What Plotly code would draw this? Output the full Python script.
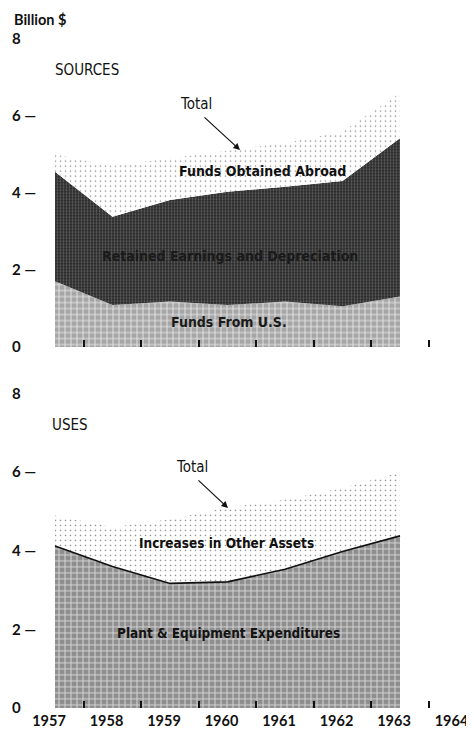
import plotly.graph_objects as go

years = [1957, 1958, 1959, 1960, 1961, 1962, 1963]

# SOURCES (billion $)
funds_from_us = [1.71, 1.09, 1.18, 1.09, 1.18, 1.06, 1.31]
retained_earnings_depreciation = [2.84, 2.29, 2.64, 2.94, 2.98, 3.25, 4.11]
funds_obtained_abroad = [0.45, 1.32, 1.08, 1.07, 1.14, 1.29, 1.18]

# USES (billion $)
plant_equipment = [4.12, 3.60, 3.17, 3.21, 3.53, 3.98, 4.38]
other_assets = [0.78, 1.00, 1.63, 1.89, 1.77, 1.62, 1.62]

year_labels = ["1957", "1958", "1959", "1960", "1961", "1962", "1963", "1964"]
y_tickvals = [0, 2, 4, 6, 8]
y_ticktext = ["0", "2 —", "4 —", "6 —", "8"]

# page geometry (the page body adds an 8px margin)
PAGE_W, PAGE_H = 474, 732
OFF = 8
W, H = PAGE_W - OFF, PAGE_H - OFF

def pxp(px):  # page x pixel -> paper x
    return (px - OFF) / W

def pyp(py):  # page y pixel -> paper y
    return 1 - (py - OFF) / H

px_per_year = 57.5
x0_px = 55
x_range = [1957 - (x0_px - OFF) / px_per_year, 1957 + (PAGE_W - x0_px) / px_per_year]

# value -> page pixel mapping for each panel
top_zero, top_ppu = 347, 38.5
bot_zero, bot_ppu = 708, 39.3
y_lo, y_hi = -0.4, 8.4
top_dom = [pyp(top_zero - y_lo * top_ppu), pyp(top_zero - y_hi * top_ppu)]
bot_dom = [pyp(bot_zero - y_lo * bot_ppu), pyp(bot_zero - y_hi * bot_ppu)]

light_pat = dict(shape="+", fgcolor="#eeeeee", bgcolor="#a6a6a6", size=6, solidity=0.25, fillmode="replace")
dark_pat = dict(shape=".", fgcolor="#666666", bgcolor="#2a2a2a", size=3, solidity=0.35, fillmode="replace")
stip_pat = dict(shape=".", fgcolor="#8a8a8a", bgcolor="#ffffff", size=5, solidity=0.08, fillmode="replace")
mid_pat = dict(shape="+", fgcolor="#d6d6d6", bgcolor="#8e8e8e", size=6, solidity=0.3, fillmode="replace")

fig = go.Figure()

fig.add_trace(go.Scatter(x=years, y=funds_from_us, stackgroup="src", mode="none",
                         fillpattern=light_pat, fillcolor="#a6a6a6", xaxis="x", yaxis="y", hoverinfo="skip"))
fig.add_trace(go.Scatter(x=years, y=retained_earnings_depreciation, stackgroup="src", mode="none",
                         fillpattern=dark_pat, fillcolor="#2a2a2a", xaxis="x", yaxis="y", hoverinfo="skip"))
fig.add_trace(go.Scatter(x=years, y=funds_obtained_abroad, stackgroup="src", mode="none",
                         fillpattern=stip_pat, fillcolor="#ffffff", xaxis="x", yaxis="y", hoverinfo="skip"))

fig.add_trace(go.Scatter(x=years, y=plant_equipment, stackgroup="use", mode="lines",
                         line=dict(color="#111111", width=1.6),
                         fillpattern=mid_pat, fillcolor="#8e8e8e", xaxis="x2", yaxis="y2", hoverinfo="skip"))
fig.add_trace(go.Scatter(x=years, y=other_assets, stackgroup="use", mode="none",
                         fillpattern=stip_pat, fillcolor="#ffffff", xaxis="x2", yaxis="y2", hoverinfo="skip"))

tick_font = dict(family="Lato", size=15, color="#111111", weight="bold")
minor_ticks = dict(tickmode="array", tickvals=[y + 0.5 for y in years], ticks="inside",
                   ticklen=7, tickwidth=1.5, tickcolor="#111111")

common_x = dict(range=x_range, domain=[0, 1], showgrid=False, zeroline=False, showline=False,
                tickmode="array", tickvals=list(range(1957, 1965)), ticks="inside", ticklen=0,
                minor=minor_ticks, anchor="free")
common_y = dict(range=[y_lo, y_hi], showgrid=False, zeroline=False, showline=False,
                tickmode="array", tickvals=y_tickvals, ticktext=y_ticktext,
                ticks="", ticklabelposition="inside", anchor="free", position=0,
                tickfont=tick_font)

fig.update_layout(
    width=W, height=H,
    margin=dict(l=0, r=0, t=0, b=0),
    paper_bgcolor="white", plot_bgcolor="white",
    showlegend=False,
    xaxis=dict(common_x, position=pyp(top_zero), showticklabels=False),
    yaxis=dict(common_y, domain=top_dom),
    xaxis2=dict(common_x, position=pyp(bot_zero), ticktext=year_labels, showticklabels=True,
                tickfont=dict(tick_font, size=14.5), ticklabelstandoff=2, ticklabelshift=-6,
                ticklabeloverflow="allow"),
    yaxis2=dict(common_y, domain=bot_dom),
)

label_font = dict(family="DejaVu Sans Condensed", size=15, color="#111111")
bold_font = dict(family="DejaVu Sans Condensed", size=14, color="#111111", weight="bold")

def xd(px):
    return 1957 + (px - x0_px) / px_per_year

def yt(py):
    return (top_zero - py) / top_ppu

def yb(py):
    return (bot_zero - py) / bot_ppu

ann = []
ann.append(dict(text="Billion $", xref="paper", yref="paper", x=pxp(12), y=pyp(20),
                xanchor="left", yanchor="middle", showarrow=False,
                font=dict(family="Lato", size=14.5, color="#111111", weight="bold")))
# top panel
ann.append(dict(text="SOURCES", xref="x", yref="y", x=xd(87), y=yt(70), showarrow=False, font=label_font))
ann.append(dict(text="Total", xref="x", yref="y", x=xd(196), y=yt(104), showarrow=False, font=label_font))
ann.append(dict(text="", xref="x", yref="y", x=xd(240), y=yt(150), axref="x", ayref="y",
                ax=xd(203), ay=yt(116), showarrow=True, arrowhead=2, arrowsize=1.1,
                arrowwidth=1.2, arrowcolor="#111111"))
ann.append(dict(text="Funds Obtained Abroad", xref="x", yref="y", x=xd(262), y=yt(171),
                showarrow=False, font=bold_font))
ann.append(dict(text="Retained Earnings and Depreciation", xref="x", yref="y", x=xd(230), y=yt(256),
                showarrow=False, font=dict(bold_font, color="#1a1a1a")))
ann.append(dict(text="Funds From U.S.", xref="x", yref="y", x=xd(229), y=yt(322),
                showarrow=False, font=dict(bold_font, color="#1a1a1a")))
# bottom panel
ann.append(dict(text="USES", xref="x2", yref="y2", x=xd(70), y=yb(425), showarrow=False, font=label_font))
ann.append(dict(text="Total", xref="x2", yref="y2", x=xd(192), y=yb(467), showarrow=False, font=label_font))
ann.append(dict(text="", xref="x2", yref="y2", x=xd(228), y=yb(508), axref="x2", ayref="y2",
                ax=xd(197), ay=yb(479), showarrow=True, arrowhead=2, arrowsize=1.1,
                arrowwidth=1.2, arrowcolor="#111111"))
ann.append(dict(text="Increases in Other Assets", xref="x2", yref="y2", x=xd(226), y=yb(543),
                showarrow=False, font=dict(bold_font, size=13.5)))
ann.append(dict(text="Plant & Equipment Expenditures", xref="x2", yref="y2", x=xd(228), y=yb(633),
                showarrow=False, font=dict(bold_font, size=13.5, color="#141414")))

fig.update_layout(annotations=ann)

fig.write_html("out.html")
